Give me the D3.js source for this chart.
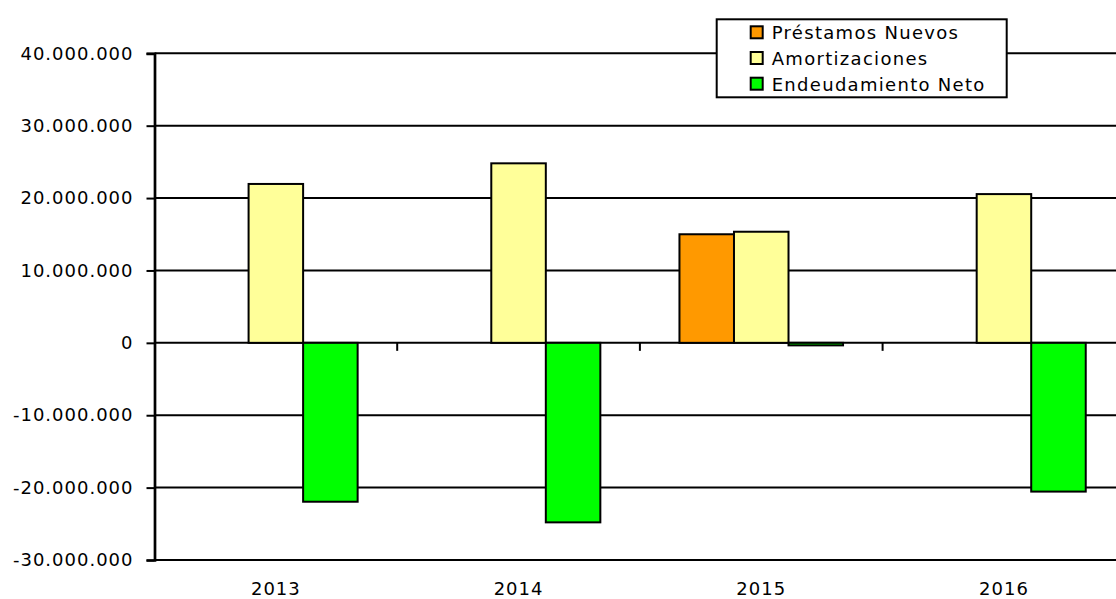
<!DOCTYPE html>
<meta charset="utf-8">
<title>Endeudamiento</title>
<style>
    body { margin: 0; background: #fff; }
    text {
        font-family: "DejaVu Sans", sans-serif;
        font-size: 18px;
        letter-spacing: 1px;
        fill: #000;
    }
    .grid line { stroke: #000; stroke-width: 2px; }
    .bars rect { stroke: #000; stroke-width: 2px; }
    .item text { letter-spacing: 1.3px; }
</style>
<svg width="1116" height="599"></svg>
<script src="https://d3js.org/d3.v7.min.js"></script>
<script>

    var years = ["2013", "2014", "2015", "2016"];
    var seriesNames = ["Préstamos Nuevos", "Amortizaciones", "Endeudamiento Neto"];
    var seriesColors = ["#FF9900", "#FFFF99", "#00FF00"];
    var prestamos = [0, 0, 15000000, 0];
    var amortizaciones = [21950000, 24800000, 15350000, 20550000];
    var neto = [-21950000, -24800000, -350000, -20550000];
    var yTicks = [-30000000, -20000000, -10000000, 0, 10000000, 20000000, 30000000, 40000000];

    var series = [prestamos, amortizaciones, neto];

    var svg = d3.select("svg"),
        plotLeft = 154.5,
        plotRight = 1125.3,
        plotTop = 53.3,
        plotBottom = 560;

    var x0 = d3.scaleBand()
        .domain(years)
        .range([plotLeft, plotRight])
        .paddingInner(0.326)
        .paddingOuter(0.163);

    var x1 = d3.scaleBand()
        .domain(d3.range(series.length))
        .range([0, x0.bandwidth()]);

    var y = d3.scaleLinear()
        .domain([-30000000, 40000000])
        .range([plotBottom, plotTop]);

    var fmt = function (d) {
        return d3.format(",")(d).replace(/,/g, ".").replace("−", "-");
    };

    // horizontal grid
    svg.append("g")
        .attr("class", "grid")
        .selectAll("line")
        .data(yTicks)
        .enter().append("line")
        .attr("x1", plotLeft)
        .attr("x2", 1116)
        .attr("y1", function (d) { return y(d); })
        .attr("y2", function (d) { return y(d); });

    // bars
    var groups = svg.append("g")
        .attr("class", "bars")
        .selectAll("g")
        .data(years)
        .enter().append("g")
        .attr("transform", function (d) { return "translate(" + x0(d) + ",0)"; });

    groups.selectAll("rect")
        .data(function (d, i) {
            return series.map(function (s, k) { return { k: k, v: s[i] }; })
                .filter(function (e) { return e.v !== 0; });
        })
        .enter().append("rect")
        .attr("x", function (d) { return x1(d.k); })
        .attr("width", x1.bandwidth())
        .attr("y", function (d) { return y(Math.max(0, d.v)); })
        .attr("height", function (d) { return Math.abs(y(d.v) - y(0)); })
        .attr("fill", function (d) { return seriesColors[d.k]; });

    // y axis
    var yAxis = svg.append("g")
        .attr("transform", "translate(" + plotLeft + ",0)")
        .call(d3.axisLeft(y).tickValues(yTicks).tickFormat(fmt).tickSize(8).tickPadding(13));
    yAxis.select(".domain").attr("stroke", "#000").attr("stroke-width", 2.7);
    yAxis.selectAll(".tick line").attr("stroke", "#000").attr("stroke-width", 2);
    yAxis.selectAll("text").style("font-family", "'DejaVu Sans', sans-serif").style("font-size", "18px").attr("fill", "#000");

    // category axis at zero
    var boundaries = years.slice(1).map(function (d) { return x0(d) - x0.step() * x0.paddingInner() / 2; });
    svg.append("g")
        .selectAll("line")
        .data(boundaries)
        .enter().append("line")
        .attr("x1", function (d) { return d; })
        .attr("x2", function (d) { return d; })
        .attr("y1", y(0))
        .attr("y2", y(0) + 8)
        .attr("stroke", "#000")
        .attr("stroke-width", 2);

    svg.append("g")
        .selectAll("text")
        .data(years)
        .enter().append("text")
        .attr("x", function (d) { return x0(d) + x0.bandwidth() / 2; })
        .attr("y", 595)
        .attr("text-anchor", "middle")
        .text(function (d) { return d; });

    // legend
    var legend = svg.append("g").attr("transform", "translate(716.7,19.3)");
    legend.append("rect")
        .attr("width", 290)
        .attr("height", 78)
        .attr("fill", "#fff")
        .attr("stroke", "#000")
        .attr("stroke-width", 2);

    var item = legend.selectAll("g.item")
        .data(seriesNames)
        .enter().append("g")
        .attr("class", "item")
        .attr("transform", function (d, i) { return "translate(0," + (20 + i * 25.7) + ")"; });

    item.append("rect")
        .attr("x", 34)
        .attr("y", -13)
        .attr("width", 12)
        .attr("height", 12)
        .attr("fill", function (d, i) { return seriesColors[i]; })
        .attr("stroke", "#000")
        .attr("stroke-width", 2);

    item.append("text")
        .attr("x", 55)
        .attr("y", 0)
        .text(function (d) { return d; });

</script>
